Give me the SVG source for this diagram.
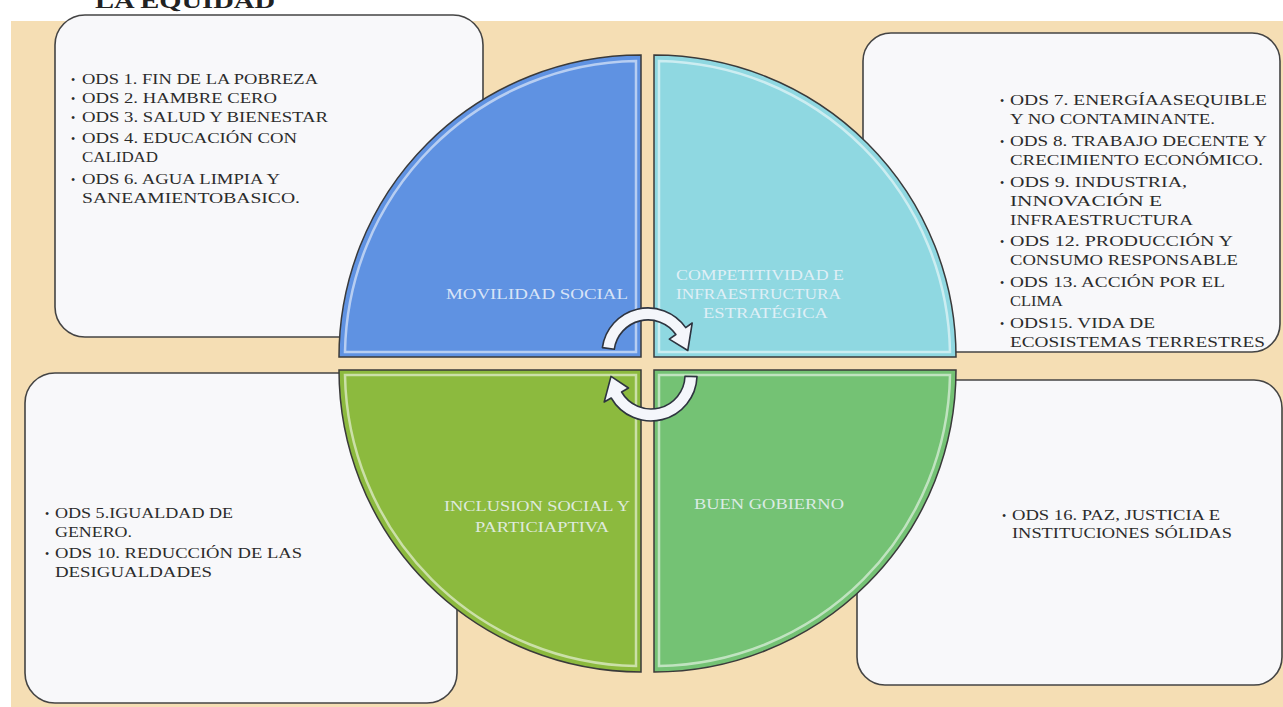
<svg xmlns="http://www.w3.org/2000/svg" width="1283" height="707" viewBox="0 0 1283 707">
<style>
.box{fill:#f8f8fa;stroke:#444;stroke-width:1.6}
.t{font-family:"Liberation Serif","Times New Roman",serif;font-size:15.5px;fill:#2b2b2b}
.b{font-family:"Liberation Serif","Times New Roman",serif;font-size:12px;fill:#2b2b2b}
.q{stroke:#3a3a3a;stroke-width:1.5}
.hl{fill:none;stroke:#ffffff;stroke-opacity:0.55;stroke-width:2.5}
.ql{font-family:"Liberation Serif","Times New Roman",serif;font-size:15px;fill:#eef4fb;fill-opacity:0.85}
.arrow{fill:#f4f6fb;stroke:#2e3440;stroke-width:1.6;stroke-linejoin:round}
</style>
<rect x="0" y="0" width="1283" height="707" fill="#ffffff"/>
<rect x="11" y="21" width="1272" height="686" fill="#f5deb4"/>
<text x="95" y="8" font-family="Liberation Serif, serif" font-weight="bold" font-size="22" fill="#222" textLength="180" lengthAdjust="spacingAndGlyphs">LA EQUIDAD</text>

<g id="box-tl">
<rect class="box" x="55" y="15" width="428" height="322" rx="30"/>
<text class="b" x="71" y="84">•</text><text class="t" x="82" y="84" textLength="236" lengthAdjust="spacingAndGlyphs">ODS 1. FIN DE LA POBREZA</text>
<text class="b" x="71" y="103">•</text><text class="t" x="82" y="103" textLength="195" lengthAdjust="spacingAndGlyphs">ODS 2. HAMBRE CERO</text>
<text class="b" x="71" y="122">•</text><text class="t" x="82" y="122" textLength="246" lengthAdjust="spacingAndGlyphs">ODS 3. SALUD Y BIENESTAR</text>
<text class="b" x="71" y="143">•</text><text class="t" x="82" y="143" textLength="215" lengthAdjust="spacingAndGlyphs">ODS 4. EDUCACIÓN CON</text>
<text class="t" x="82" y="162" textLength="76" lengthAdjust="spacingAndGlyphs">CALIDAD</text>
<text class="b" x="71" y="184">•</text><text class="t" x="82" y="184" textLength="198" lengthAdjust="spacingAndGlyphs">ODS 6. AGUA LIMPIA Y</text>
<text class="t" x="82" y="203" textLength="218" lengthAdjust="spacingAndGlyphs">SANEAMIENTOBASICO.</text>
</g>

<g id="box-tr">
<rect class="box" x="863" y="33" width="417" height="319" rx="28"/>
<text class="b" x="1000" y="105">•</text><text class="t" x="1010" y="105" textLength="257" lengthAdjust="spacingAndGlyphs">ODS 7. ENERGÍAASEQUIBLE</text>
<text class="t" x="1010" y="124" textLength="205" lengthAdjust="spacingAndGlyphs">Y NO CONTAMINANTE.</text>
<text class="b" x="1000" y="146">•</text><text class="t" x="1010" y="146" textLength="257" lengthAdjust="spacingAndGlyphs">ODS 8. TRABAJO DECENTE Y</text>
<text class="t" x="1010" y="165" textLength="253" lengthAdjust="spacingAndGlyphs">CRECIMIENTO ECONÓMICO.</text>
<text class="b" x="1000" y="187">•</text><text class="t" x="1010" y="187" textLength="177" lengthAdjust="spacingAndGlyphs">ODS 9. INDUSTRIA,</text>
<text class="t" x="1010" y="206" textLength="152" lengthAdjust="spacingAndGlyphs">INNOVACIÓN E</text>
<text class="t" x="1010" y="225" textLength="183" lengthAdjust="spacingAndGlyphs">INFRAESTRUCTURA</text>
<text class="b" x="1000" y="246">•</text><text class="t" x="1010" y="246" textLength="223" lengthAdjust="spacingAndGlyphs">ODS 12. PRODUCCIÓN Y</text>
<text class="t" x="1010" y="265" textLength="228" lengthAdjust="spacingAndGlyphs">CONSUMO RESPONSABLE</text>
<text class="b" x="1000" y="287">•</text><text class="t" x="1010" y="287" textLength="215" lengthAdjust="spacingAndGlyphs">ODS 13. ACCIÓN POR EL</text>
<text class="t" x="1010" y="306" textLength="53" lengthAdjust="spacingAndGlyphs">CLIMA</text>
<text class="b" x="1000" y="328">•</text><text class="t" x="1010" y="328" textLength="145" lengthAdjust="spacingAndGlyphs">ODS15. VIDA DE</text>
<text class="t" x="1010" y="347" textLength="255" lengthAdjust="spacingAndGlyphs">ECOSISTEMAS TERRESTRES</text>
</g>

<g id="box-bl">
<rect class="box" x="25" y="373" width="432" height="330" rx="30"/>
<text class="b" x="45" y="518">•</text><text class="t" x="55" y="518" textLength="178" lengthAdjust="spacingAndGlyphs">ODS 5.IGUALDAD DE</text>
<text class="t" x="55" y="537" textLength="77" lengthAdjust="spacingAndGlyphs">GENERO.</text>
<text class="b" x="45" y="558">•</text><text class="t" x="55" y="558" textLength="247" lengthAdjust="spacingAndGlyphs">ODS 10. REDUCCIÓN DE LAS</text>
<text class="t" x="55" y="577" textLength="157" lengthAdjust="spacingAndGlyphs">DESIGUALDADES</text>
</g>

<g id="box-br">
<rect class="box" x="857" y="380" width="425" height="305" rx="28"/>
<text class="b" x="1002" y="520">•</text><text class="t" x="1012" y="520" textLength="208" lengthAdjust="spacingAndGlyphs">ODS 16. PAZ, JUSTICIA E</text>
<text class="t" x="1012" y="538" textLength="220" lengthAdjust="spacingAndGlyphs">INSTITUCIONES SÓLIDAS</text>
</g>

<g id="quad-movilidad">
<path class="q" fill="#5f92e2" d="M641,357 L339,357 A302,302 0 0 1 641,55 Z"/>
<path class="hl" d="M636,352 L345,352 A296,296 0 0 1 636,61 Z"/>
<text class="ql" x="446" y="299" textLength="182" lengthAdjust="spacingAndGlyphs">MOVILIDAD SOCIAL</text>
</g>
<g id="quad-competitividad">
<path class="q" fill="#8fd8e1" d="M654,357 L654,55 A302,302 0 0 1 956,357 Z"/>
<path class="hl" d="M659,352 L659,61 A296,296 0 0 1 950,352 Z"/>
<text class="ql" x="676" y="280" textLength="168" lengthAdjust="spacingAndGlyphs">COMPETITIVIDAD E</text>
<text class="ql" x="676" y="299" textLength="165" lengthAdjust="spacingAndGlyphs">INFRAESTRUCTURA</text>
<text class="ql" x="703" y="318" textLength="125" lengthAdjust="spacingAndGlyphs">ESTRATÉGICA</text>
</g>
<g id="quad-inclusion">
<path class="q" fill="#8cba3e" d="M641,370 L641,672 A302,302 0 0 1 339,370 Z"/>
<path class="hl" d="M636,375 L636,666 A296,296 0 0 1 345,375 Z"/>
<text class="ql" x="444" y="511" textLength="186" lengthAdjust="spacingAndGlyphs">INCLUSION SOCIAL Y</text>
<text class="ql" x="475" y="532" textLength="134" lengthAdjust="spacingAndGlyphs">PARTICIAPTIVA</text>
</g>
<g id="quad-buen-gobierno">
<path class="q" fill="#74c274" d="M654,370 L956,370 A302,302 0 0 1 654,672 Z"/>
<path class="hl" d="M659,375 L950,375 A296,296 0 0 1 659,666 Z"/>
<text class="ql" x="694" y="509" textLength="150" lengthAdjust="spacingAndGlyphs">BUEN GOBIERNO</text>
</g>

<g id="connectors">
<path class="arrow" d="M602.4,347.6 A46,46 0 0 1 685.7,327.6 L692.2,323 L687.8,350.5 L669.3,339.1 L675.9,334.5 A34,34 0 0 0 614.3,349.3 Z"/>
<path class="arrow" d="M697,376.6 A46,46 0 0 1 611.2,398 L604.2,402 L611,376.4 L628.5,388 L621.6,392 A34,34 0 0 0 685,376.2 Z"/>
</g>
</svg>
